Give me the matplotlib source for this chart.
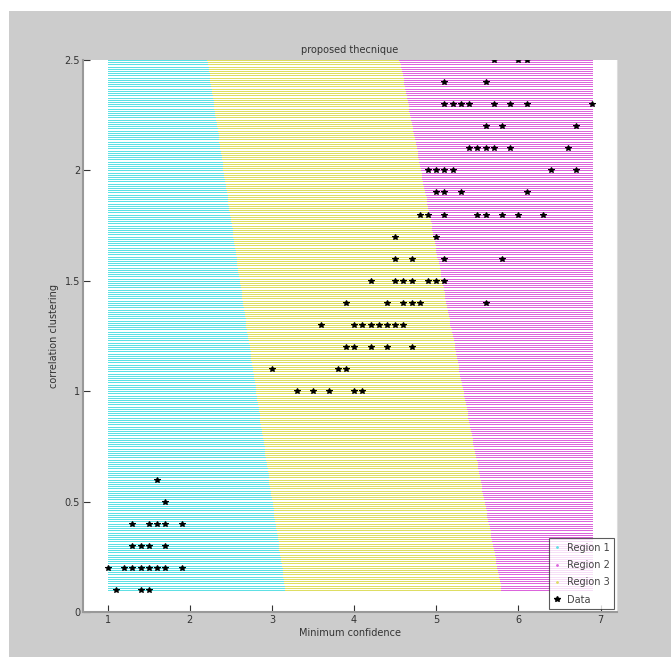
import numpy as np
import matplotlib
matplotlib.use('Agg')
import matplotlib.pyplot as plt
from matplotlib.patches import Rectangle
from matplotlib.lines import Line2D

# decision boundaries: (x at y=2.5, x at y=0.1)
bound1 = [2.21, 3.16]
bound2 = [4.55, 5.79]
grid_x = [1.0, 6.9]
grid_y = [0.1, 2.5]

# data points (x = minimum confidence, y = correlation clustering)
data_x = [1.1, 1.4, 1.5,
          1.0, 1.2, 1.3, 1.4, 1.5, 1.6, 1.7, 1.9,
          1.3, 1.4, 1.5, 1.7,
          1.3, 1.5, 1.6, 1.7, 1.9,
          1.7, 1.6,
          3.3, 3.5, 3.7, 4.0, 4.1,
          3.0, 3.8, 3.9,
          3.9, 4.0, 4.2, 4.4, 4.7,
          3.6, 4.0, 4.1, 4.2, 4.3, 4.4, 4.5, 4.6,
          3.9, 4.4, 4.6, 4.7, 4.8, 5.6,
          4.2, 4.5, 4.6, 4.7, 4.9, 5.0, 5.1,
          4.5, 4.7, 5.1, 5.8,
          4.5, 5.0,
          4.8, 4.9, 5.1, 5.5, 5.6, 5.8, 6.0, 6.3,
          5.0, 5.1, 5.3, 6.1,
          4.9, 5.0, 5.1, 5.2, 6.4, 6.7,
          5.4, 5.5, 5.6, 5.7, 5.9, 6.6,
          5.6, 5.8, 6.7,
          5.1, 5.2, 5.3, 5.4, 5.7, 5.9, 6.1, 6.9,
          5.1, 5.6,
          5.7, 6.0, 6.1]
data_y = [0.1] * 3 + [0.2] * 8 + [0.3] * 4 + [0.4] * 5 + [0.5, 0.6] + \
         [1.0] * 5 + [1.1] * 3 + [1.2] * 5 + [1.3] * 8 + [1.4] * 6 + \
         [1.5] * 7 + [1.6] * 4 + [1.7] * 2 + [1.8] * 8 + [1.9] * 4 + \
         [2.0] * 6 + [2.1] * 6 + [2.2] * 3 + [2.3] * 8 + [2.4] * 2 + [2.5] * 3

W, H = 671, 657
fig = plt.figure(figsize=(W / 100, H / 100), dpi=100)
fig.patch.set_facecolor('white')
fig.add_artist(Rectangle((9 / W, 0), 1 - 9 / W, 1 - 11 / H, transform=fig.transFigure,
                         facecolor='#cccccc', edgecolor='none', zorder=-10))

ax = fig.add_axes([83 / W, (H - 612) / H, (617 - 83) / W, (612 - 60) / H])
ax.set_facecolor('white')

# classification grid: each row of grid points drawn as a run per region
xs = np.arange(grid_x[0], grid_x[1] + 1e-9, 0.01)
ys = np.arange(grid_y[0], grid_y[1] + 1e-9, 0.01)
c1, c2, c3 = '#5ee0e4', '#dc64dc', '#dede62'
runs = {c1: ([], [], []), c2: ([], [], []), c3: ([], [], [])}
for y in ys:
    t = (grid_y[1] - y) / (grid_y[1] - grid_y[0])
    b1 = bound1[0] + t * (bound1[1] - bound1[0])
    b2 = bound2[0] + t * (bound2[1] - bound2[0])
    for col, m in ((c1, xs < b1), (c3, (xs >= b1) & (xs < b2)), (c2, xs >= b2)):
        if m.any():
            runs[col][0].append(y)
            runs[col][1].append(xs[m].min())
            runs[col][2].append(xs[m].max())
for col, (ry, rx0, rx1) in runs.items():
    ax.hlines(ry, rx0, rx1, colors=col, linewidth=0.72, antialiased=False, zorder=1)

ax.plot(data_x, data_y, '*', color='black', markersize=4, markeredgewidth=0.8, zorder=3)

ax.set_xlim(0.7, 7.2)
ax.set_ylim(0, 2.5)
ax.set_xticks(range(1, 8))
ax.set_yticks([0, 0.5, 1, 1.5, 2, 2.5])
ax.set_yticklabels(['0', '0.5', '1', '1.5', '2', '2.5'])
ax.tick_params(direction='in', length=5, labelsize=7, colors='#333333', pad=2)
ax.spines['top'].set_visible(False)
ax.spines['right'].set_color('#dddddd')
ax.spines['left'].set_color('#999999')
ax.spines['bottom'].set_color('#999999')
ax.spines['left'].set_linewidth(1.5)
ax.spines['bottom'].set_linewidth(1.5)

ax.set_title('proposed thecnique', fontsize=7, color='#333333', pad=5)
ax.set_xlabel('Minimum confidence', fontsize=7, color='#333333', labelpad=2)
ax.set_ylabel('correlation clustering', fontsize=7, color='#333333', labelpad=4)

handles = [Line2D([], [], marker='.', markersize=2, linestyle='none', color=c1),
           Line2D([], [], marker='.', markersize=2, linestyle='none', color=c2),
           Line2D([], [], marker='.', markersize=2, linestyle='none', color=c3),
           Line2D([], [], marker='*', markersize=4, linestyle='none', color='black')]
leg = ax.legend(handles, ['Region 1', 'Region 2', 'Region 3', 'Data'], loc='lower right',
                fontsize=7, frameon=True, fancybox=False, borderaxespad=0.3,
                handlelength=0.8, handletextpad=0.6, labelspacing=0.75, borderpad=0.45)
leg.get_frame().set_edgecolor('#333333')
leg.get_frame().set_linewidth(0.8)
for txt in leg.get_texts():
    txt.set_color('#444444')

fig.savefig('out.png', dpi=100)
